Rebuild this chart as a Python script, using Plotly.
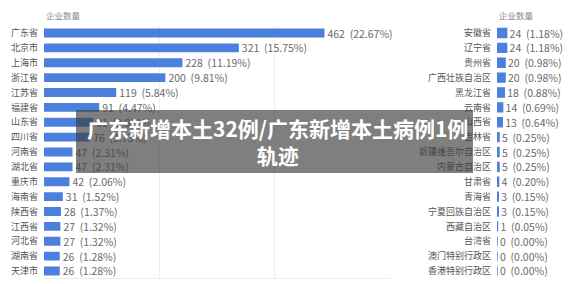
import plotly.graph_objects as go

left_cats = ["广东省", "北京市", "上海市", "浙江省", "江苏省", "福建省", "山东省", "四川省",
             "河南省", "湖北省", "重庆市", "海南省", "陕西省", "江西省", "河北省", "湖南省", "天津市"]
left_vals = [462, 321, 228, 200, 119, 91, 81, 76, 47, 47, 42, 31, 28, 27, 27, 26, 26]
left_pcts = ["22.67%", "15.75%", "11.19%", "9.81%", "5.84%", "4.47%", "3.97%", "3.73%",
             "2.31%", "2.31%", "2.06%", "1.52%", "1.37%", "1.32%", "1.32%", "1.28%", "1.28%"]

right_cats = ["安徽省", "辽宁省", "贵州省", "广西壮族自治区", "黑龙江省", "云南省", "山西省", "吉林省",
              "新疆维吾尔自治区", "内蒙古自治区", "甘肃省", "青海省", "宁夏回族自治区", "西藏自治区",
              "台湾省", "澳门特别行政区", "香港特别行政区"]
right_vals = [24, 24, 20, 20, 18, 14, 13, 5, 5, 5, 4, 3, 3, 1, 0, 0, 0]
right_pcts = ["1.18%", "1.18%", "0.98%", "0.98%", "0.88%", "0.69%", "0.64%", "0.25%",
              "0.25%", "0.25%", "0.20%", "0.15%", "0.15%", "0.05%", "0.00%", "0.00%", "0.00%"]

header = "企业数量"
title_text = "广东新增本土32例/广东新增本土病例1例<br>轨迹"
left_grid = [190, 380, 570]

FONT = "Noto Sans CJK SC"
BAR = "#4B80DC"
W, H = 578, 284

fig = go.Figure()
fig.add_trace(go.Bar(
    y=left_cats, x=left_vals, orientation="h",
    marker=dict(color=BAR, line=dict(width=0)),
    text=[f"{v}  ({p})" for v, p in zip(left_vals, left_pcts)],
    textposition="outside", cliponaxis=False, constraintext="none",
    textfont=dict(size=10.5, color="#6a6a6a", family=FONT),
    xaxis="x", yaxis="y", width=0.6, showlegend=False,
))
fig.add_trace(go.Bar(
    y=right_cats, x=right_vals, orientation="h",
    marker=dict(color=BAR, line=dict(color=BAR, width=1.5)),
    text=[f"{v}  ({p})" for v, p in zip(right_vals, right_pcts)],
    textposition="outside", cliponaxis=False, constraintext="none",
    textfont=dict(size=10.5, color="#6a6a6a", family=FONT),
    xaxis="x2", yaxis="y2", width=0.6, showlegend=False,
))

ydom = [(H - 278.4) / H, (H - 25.6) / H]
fig.update_layout(
    width=W, height=H, margin=dict(l=0, r=0, t=0, b=0),
    paper_bgcolor="white", plot_bgcolor="white",
    font=dict(family=FONT),
    xaxis=dict(domain=[44 / W, 390 / W], range=[0, 570], tickvals=left_grid,
               showticklabels=False, showgrid=True, gridcolor="#efefef", gridwidth=1,
               zeroline=False, showline=True, linecolor="#ececec", mirror=False),
    yaxis=dict(domain=ydom, categoryorder="array", categoryarray=left_cats[::-1],
               tickfont=dict(size=9, color="#555555", family=FONT),
               ticks="", ticklabelstandoff=5, showgrid=False, zeroline=False),
    xaxis2=dict(domain=[497 / W, 1.0], range=[0, 202], anchor="y2",
                showticklabels=False, showgrid=False, zeroline=False),
    yaxis2=dict(domain=ydom, anchor="x2", categoryorder="array", categoryarray=right_cats[::-1],
                tickfont=dict(size=9, color="#555555", family=FONT),
                ticks="", ticklabelstandoff=5, showgrid=False, zeroline=False),
    bargap=0.4,
)

fig.add_annotation(x=44 / W, y=(H - 15) / H, xref="paper", yref="paper", text=header,
                   showarrow=False, xanchor="left", yanchor="middle",
                   font=dict(size=8.5, color="#8a8a8a", family=FONT))
fig.add_annotation(x=497 / W, y=(H - 15) / H, xref="paper", yref="paper", text=header,
                   showarrow=False, xanchor="left", yanchor="middle",
                   font=dict(size=8.5, color="#8a8a8a", family=FONT))

fig.add_shape(type="rect", xref="paper", yref="paper",
              x0=76 / W, x1=473 / W, y0=(H - 173) / H, y1=(H - 110) / H,
              fillcolor="rgba(60,60,60,0.66)", line=dict(width=0), layer="above")
fig.add_annotation(x=277 / W, y=(H - 141) / H, xref="paper", yref="paper",
                   text=f"<b>{title_text}</b>", showarrow=False,
                   xanchor="center", yanchor="middle", align="center",
                   font=dict(size=21, color="white", family=FONT))

fig.write_html("out.html")
